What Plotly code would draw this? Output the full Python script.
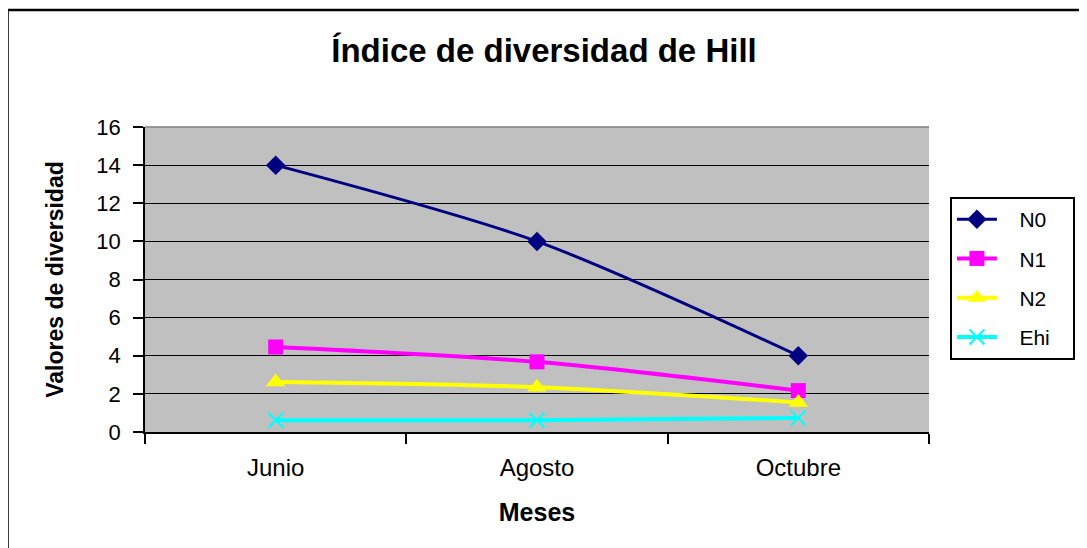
import plotly.graph_objects as go

meses = ["Junio", "Agosto", "Octubre"]
n0 = [14, 10, 4]
n1 = [4.46, 3.68, 2.17]
n2 = [2.62, 2.35, 1.55]
ehi = [0.62, 0.62, 0.73]

series = [
    ("N0", n0, "#000080", "diamond", 15, 3),
    ("N1", n1, "#FF00FF", "square", 15, 4),
    ("N2", n2, "#FFFF00", "triangle-up", 17, 4),
    ("Ehi", ehi, "#00FFFF", "x-thin", 15, 4),
]

FONT = "Liberation Sans, Arial, sans-serif"
NB = "\u00a0"
OFF = 8  # browser body margin

fig = go.Figure()
for i, (name, vals, col, sym, sz, lw) in enumerate(series):
    marker = dict(symbol=sym, size=sz, color=col)
    if sym == "x-thin":
        marker["line"] = dict(color=col, width=2)
    fig.add_trace(go.Scatter(
        x=meses, y=vals, name=NB * 3 + name + NB * 3, mode="lines+markers",
        line=dict(color=col, width=lw, shape="spline", smoothing=0.8),
        marker=marker, legendgroup=f"g{i}",
    ))

W, H = 1087 - OFF, 548 - OFF
L, R, T, B = 145 - OFF, 1087 - 932, 127 - OFF, 548 - 432
pw = W - L - R
ph = H - T - B


def px_x(x):
    return (x - OFF - L) / pw


def px_y(y):
    return (432 - y) / ph


fig.update_layout(
    width=W, height=H,
    margin=dict(l=L, r=R, t=T, b=B, pad=0),
    paper_bgcolor="white",
    plot_bgcolor="#C0C0C0",
    font=dict(family=FONT, color="black", size=20),
    title=dict(text="<b>Índice de diversidad de Hill</b>", x=(544 - OFF) / W, xanchor="center",
               y=1 - (50 - OFF) / H, yanchor="middle", font=dict(size=33, family=FONT)),
    showlegend=True,
    legend=dict(x=px_x(953), xanchor="left", y=px_y(197), yanchor="top",
                bgcolor="white", bordercolor="black", borderwidth=2,
                font=dict(size=21, family=FONT), tracegroupgap=9, itemwidth=40),
    xaxis=dict(
        type="category", range=[-0.5, 2.5], tickson="boundaries", ticks="outside",
        ticklen=10, tickwidth=1.5, tickcolor="black", showline=True, linecolor="black",
        linewidth=1.5, showgrid=False, tickfont=dict(size=24), ticklabelstandoff=13,
        title=dict(text="<b>Meses</b>", font=dict(size=25), standoff=24),
    ),
    yaxis=dict(
        range=[0, 16], dtick=2, ticks="outside", ticklen=10, tickwidth=1.5,
        tickcolor="black", showline=True, linecolor="black", linewidth=1.5,
        showgrid=True, gridcolor="black", gridwidth=1, zeroline=False,
        tickfont=dict(size=22), ticklabelstandoff=8,
        title=dict(text="<b>Valores de diversidad</b>", font=dict(size=23), standoff=26),
    ),
    shapes=[
        dict(type="rect", xref="paper", yref="paper",
             x0=px_x(7), x1=px_x(1200), y0=px_y(700), y1=px_y(10),
             line=dict(color="black", width=2.5), layer="below"),
        dict(type="line", xref="paper", yref="paper", x0=0, x1=1, y0=1, y1=1,
             line=dict(color="#808080", width=1.5), layer="above"),
    ],
)

fig.write_html("out.html")
